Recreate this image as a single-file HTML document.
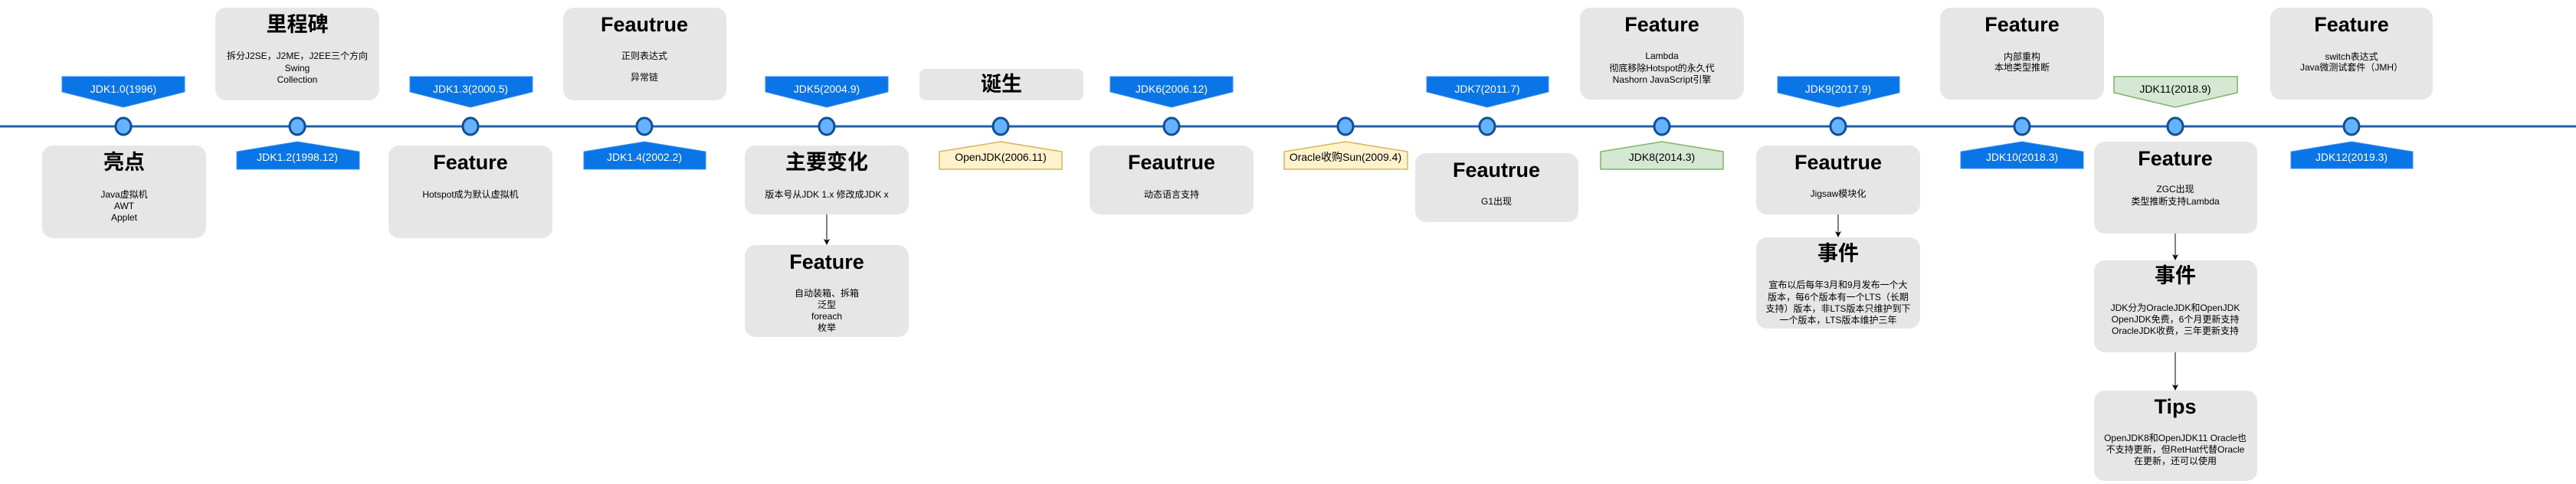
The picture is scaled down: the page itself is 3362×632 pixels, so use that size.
<!DOCTYPE html>
<html><head><meta charset="utf-8"><style>
html,body{margin:0;padding:0;background:#fff;}
svg{display:block;}
text{font-family:"Liberation Sans","Noto Sans CJK SC",sans-serif;text-anchor:middle;dominant-baseline:central;}
.t{font-size:27px;font-weight:bold;fill:#000;}
.b{font-size:12px;fill:#000;}
.w{font-size:14px;fill:#fff;}
.k{font-size:14px;fill:#000;}
.box{fill:#e6e6e6;}
.blue{fill:#0a75e6;stroke:#3a8ff0;stroke-width:1;}
.yel{fill:#fff2cc;stroke:#d6b656;stroke-width:1.5;}
.grn{fill:#d5e8d4;stroke:#82b366;stroke-width:1.5;}
.c{fill:#66b2ff;stroke:#0f4f99;stroke-width:3;}
</style></head><body>
<svg width="3362" height="632" viewBox="0 0 3362 632" xmlns="http://www.w3.org/2000/svg">
<defs><marker id="ar" markerWidth="8" markerHeight="8" refX="7" refY="4" orient="auto" markerUnits="userSpaceOnUse"><path d="M0,0 L8,4 L0,8 L2,4 z" fill="#000"/></marker></defs>
<line x1="0" y1="165" x2="3362" y2="165" stroke="#2060a8" stroke-width="3"/>

<!-- boxes -->
<rect class="box" x="55" y="190" width="214" height="121" rx="14"/>
<text class="t" x="162" y="212">亮点</text>
<text class="b" x="162" y="254">Java虚拟机</text><text class="b" x="162" y="269">AWT</text><text class="b" x="162" y="284">Applet</text>

<rect class="box" x="281" y="10" width="214" height="121" rx="14"/>
<text class="t" x="388" y="32">里程碑</text>
<text class="b" x="388" y="73">拆分J2SE，J2ME，J2EE三个方向</text><text class="b" x="388" y="89">Swing</text><text class="b" x="388" y="104">Collection</text>

<rect class="box" x="507" y="190" width="214" height="121" rx="14"/>
<text class="t" x="614" y="212">Feature</text>
<text class="b" x="614" y="254">Hotspot成为默认虚拟机</text>

<rect class="box" x="735" y="10" width="213" height="121" rx="14"/>
<text class="t" x="841" y="32">Feautrue</text>
<text class="b" x="841" y="73">正则表达式</text><text class="b" x="841" y="101">异常链</text>

<rect class="box" x="972" y="190" width="214" height="90" rx="14"/>
<text class="t" x="1079" y="212">主要变化</text>
<text class="b" x="1079" y="254">版本号从JDK 1.x 修改成JDK x</text>

<line x1="1079" y1="280" x2="1079" y2="319" stroke="#000" stroke-width="1" marker-end="url(#ar)"/>
<rect class="box" x="972" y="320" width="214" height="120" rx="14"/>
<text class="t" x="1079" y="342">Feature</text>
<text class="b" x="1079" y="383">自动装箱、拆箱</text><text class="b" x="1079" y="398">泛型</text><text class="b" x="1079" y="413">foreach</text><text class="b" x="1079" y="428">枚举</text>

<rect class="box" x="1200" y="90" width="214" height="41" rx="8"/>
<text class="t" x="1307" y="110">诞生</text>

<rect class="box" x="1422" y="190" width="214" height="90" rx="14"/>
<text class="t" x="1529" y="212">Feautrue</text>
<text class="b" x="1529" y="254">动态语言支持</text>

<rect class="box" x="1847" y="200" width="213" height="90" rx="14"/>
<text class="t" x="1953" y="222">Feautrue</text>
<text class="b" x="1953" y="263">G1出现</text>

<rect class="box" x="2062" y="10" width="214" height="120" rx="14"/>
<text class="t" x="2169" y="32">Feature</text>
<text class="b" x="2169" y="73">Lambda</text><text class="b" x="2169" y="89">彻底移除Hotspot的永久代</text><text class="b" x="2169" y="104">Nashorn JavaScript引擎</text>

<rect class="box" x="2292" y="190" width="214" height="90" rx="14"/>
<text class="t" x="2399" y="212">Feautrue</text>
<text class="b" x="2399" y="253">Jigsaw模块化</text>

<line x1="2399" y1="280" x2="2399" y2="309" stroke="#000" stroke-width="1" marker-end="url(#ar)"/>
<rect class="box" x="2292" y="310" width="214" height="119" rx="14"/>
<text class="t" x="2399" y="331">事件</text>
<text class="b" x="2399" y="372">宣布以后每年3月和9月发布一个大</text><text class="b" x="2399" y="388">版本，每6个版本有一个LTS（长期</text><text class="b" x="2399" y="403">支持）版本，非LTS版本只维护到下</text><text class="b" x="2399" y="418">一个版本，LTS版本维护三年</text>

<rect class="box" x="2532" y="10" width="214" height="120" rx="14"/>
<text class="t" x="2639" y="32">Feature</text>
<text class="b" x="2639" y="74">内部重构</text><text class="b" x="2639" y="88">本地类型推断</text>

<rect class="box" x="2733" y="185" width="213" height="120" rx="14"/>
<text class="t" x="2839" y="207">Feature</text>
<text class="b" x="2839" y="247">ZGC出现</text><text class="b" x="2839" y="263">类型推断支持Lambda</text>

<line x1="2839" y1="305" x2="2839" y2="339" stroke="#000" stroke-width="1" marker-end="url(#ar)"/>
<rect class="box" x="2733" y="340" width="213" height="120" rx="14"/>
<text class="t" x="2839" y="360">事件</text>
<text class="b" x="2839" y="402">JDK分为OracleJDK和OpenJDK</text><text class="b" x="2839" y="417">OpenJDK免费，6个月更新支持</text><text class="b" x="2839" y="432">OracleJDK收费，三年更新支持</text>

<line x1="2839" y1="460" x2="2839" y2="509" stroke="#000" stroke-width="1" marker-end="url(#ar)"/>
<rect class="box" x="2733" y="510" width="213" height="118" rx="14"/>
<text class="t" x="2839" y="531">Tips</text>
<text class="b" x="2839" y="572">OpenJDK8和OpenJDK11 Oracle也</text><text class="b" x="2839" y="587">不支持更新，但RetHat代替Oracle</text><text class="b" x="2839" y="602">在更新，还可以使用</text>

<rect class="box" x="2963" y="10" width="212" height="120" rx="14"/>
<text class="t" x="3069" y="32">Feature</text>
<text class="b" x="3069" y="74">switch表达式</text><text class="b" x="3069" y="88">Java微测试套件（JMH）</text>

<!-- down pentagons -->
<polygon class="blue" points="81,100 241,100 241,120 161,140 81,120"/><text class="w" x="161" y="116">JDK1.0(1996)</text>
<polygon class="blue" points="535,100 695,100 695,120 614,140 535,120"/><text class="w" x="614" y="116">JDK1.3(2000.5)</text>
<polygon class="blue" points="999,100 1159,100 1159,120 1079,140 999,120"/><text class="w" x="1079" y="116">JDK5(2004.9)</text>
<polygon class="blue" points="1449,100 1609,100 1609,120 1529,140 1449,120"/><text class="w" x="1529" y="116">JDK6(2006.12)</text>
<polygon class="blue" points="1862,100 2021,100 2021,120 1941,140 1862,120"/><text class="w" x="1941" y="116">JDK7(2011.7)</text>
<polygon class="blue" points="2320,100 2479,100 2479,121 2399,140 2320,121"/><text class="w" x="2399" y="116">JDK9(2017.9)</text>
<polygon class="grn" points="2759,100 2920,100 2920,121 2839,140 2759,121"/><text class="k" x="2839" y="116">JDK11(2018.9)</text>

<!-- up pentagons -->
<polygon class="blue" points="388,185 469,198 469,221 309,221 309,198"/><text class="w" x="388" y="205">JDK1.2(1998.12)</text>
<polygon class="blue" points="841,185 921,198 921,221 762,221 762,198"/><text class="w" x="841" y="205">JDK1.4(2002.2)</text>
<polygon class="yel" points="1306,185 1386,198 1386,221 1226,221 1226,198"/><text class="k" x="1306" y="205">OpenJDK(2006.11)</text>
<polygon class="yel" points="1756,185 1837,198 1837,221 1676,221 1676,198"/><text class="k" x="1756" y="205">Oracle收购Sun(2009.4)</text>
<polygon class="grn" points="2169,185 2249,198 2249,221 2089,221 2089,198"/><text class="k" x="2169" y="205">JDK8(2014.3)</text>
<polygon class="blue" points="2639,185 2719,198 2719,220 2559,220 2559,198"/><text class="w" x="2639" y="205">JDK10(2018.3)</text>
<polygon class="blue" points="3069,185 3149,198 3149,220 2990,220 2990,198"/><text class="w" x="3069" y="205">JDK12(2019.3)</text>

<!-- circles -->
<ellipse class="c" cx="161" cy="165" rx="10" ry="11"/>
<ellipse class="c" cx="388" cy="165" rx="10" ry="11"/>
<ellipse class="c" cx="614" cy="165" rx="10" ry="11"/>
<ellipse class="c" cx="841" cy="165" rx="10" ry="11"/>
<ellipse class="c" cx="1079" cy="165" rx="10" ry="11"/>
<ellipse class="c" cx="1306" cy="165" rx="10" ry="11"/>
<ellipse class="c" cx="1529" cy="165" rx="10" ry="11"/>
<ellipse class="c" cx="1756" cy="165" rx="10" ry="11"/>
<ellipse class="c" cx="1941" cy="165" rx="10" ry="11"/>
<ellipse class="c" cx="2169" cy="165" rx="10" ry="11"/>
<ellipse class="c" cx="2399" cy="165" rx="10" ry="11"/>
<ellipse class="c" cx="2639" cy="165" rx="10" ry="11"/>
<ellipse class="c" cx="2839" cy="165" rx="10" ry="11"/>
<ellipse class="c" cx="3069" cy="165" rx="10" ry="11"/>
</svg>
</body></html>
